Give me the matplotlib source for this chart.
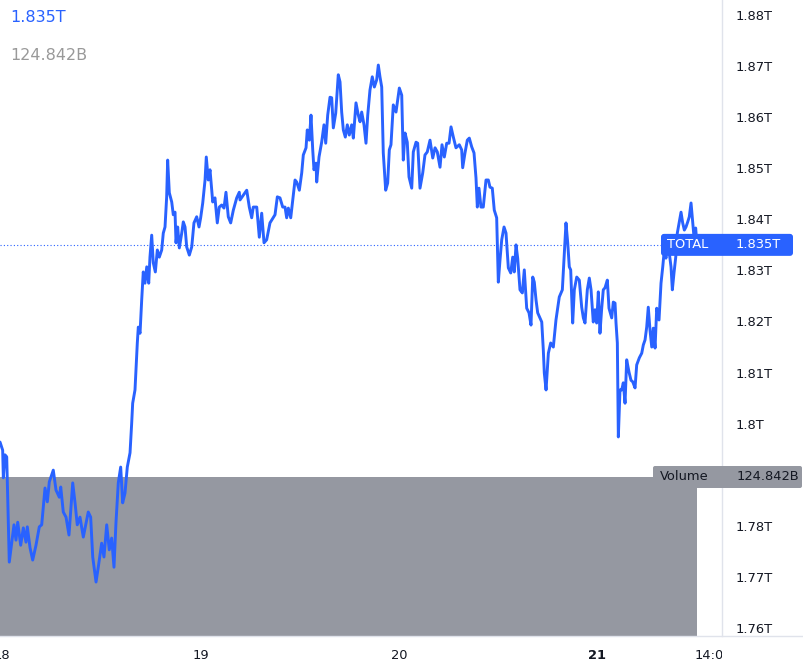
import matplotlib
matplotlib.use("Agg")
import matplotlib.pyplot as plt
from matplotlib.patches import FancyBboxPatch
from matplotlib.lines import Line2D
from matplotlib.transforms import IdentityTransform

# ---------------- data ----------------
# hours since 18th 00:00
hours = [
    -0.24, 0.08, 0.16, 0.36, 0.57, 0.88, 1.17, 1.45, 1.69, 1.90,
    2.26, 2.58, 2.90, 3.06, 3.39, 3.71, 4.11, 4.51, 4.80, 5.20,
    5.48, 5.72, 6.20, 6.53, 6.93, 7.10, 7.41, 7.74, 8.10, 8.55,
    8.83, 9.10, 9.43, 9.83, 10.43, 10.72, 10.97, 11.37, 11.64, 12.05,
    12.33, 12.66, 12.97, 13.26, 13.54, 13.78, 14.06, 14.35, 14.59, 14.87,
    15.15, 15.48, 15.68, 15.80, 16.08, 16.20, 16.36, 16.48, 16.69, 16.89,
    17.08, 17.29, 17.50, 17.74, 17.89, 18.10, 18.29, 18.54, 18.78, 19.02,
    19.31, 19.50, 19.71, 19.91, 20.03, 20.23, 20.52, 20.71, 20.92, 21.04,
    21.24, 21.44, 21.73, 21.92, 22.13, 22.33, 22.65, 22.94, 23.21, 23.54,
    23.82, 24.02, 24.27, 24.55, 24.70, 24.94, 25.15, 25.48, 25.75, 26.03,
    26.27, 26.56, 26.84, 27.08, 27.36, 27.65, 27.97, 28.38, 28.69, 28.78,
    29.59, 29.90, 30.19, 30.38, 30.80, 31.11, 31.40, 31.68, 32.00, 32.40,
    33.01, 33.29, 33.61, 33.94, 34.22, 34.42, 34.62, 34.91, 35.15, 35.43,
    35.63, 35.95, 36.24, 36.43, 36.76, 36.91, 37.16, 37.36, 37.57, 37.72,
    37.97, 38.05, 38.33, 38.65, 38.93, 39.14, 39.38, 39.66, 39.86, 40.06,
    40.35, 40.66, 40.87, 41.07, 41.27, 41.51, 41.75, 41.99, 42.28, 42.48,
    42.80, 43.08, 43.29, 43.49, 43.77, 44.01, 44.22, 44.49, 44.77, 45.02,
    45.30, 45.50, 45.70, 45.91, 46.10, 46.39, 46.63, 46.83, 47.03, 47.31,
    47.64, 48.04, 48.33, 48.52, 48.73, 49.00, 49.21, 49.54, 49.73, 50.06,
    50.26, 50.54, 50.87, 51.14, 51.42, 51.75, 52.08, 52.36, 52.63, 52.96,
    53.20, 53.48, 53.77, 54.05, 54.29, 54.57, 54.89, 55.29, 55.58, 55.70,
    55.98, 56.26, 56.50, 56.79, 57.07, 57.31, 57.47, 57.67, 57.91, 58.19,
    58.52, 58.80, 59.00, 59.28, 59.52, 59.81, 60.01, 60.21, 60.42, 60.70,
    60.94, 61.22, 61.51, 61.75, 61.94, 62.15, 62.35, 62.63, 62.91, 63.15,
    63.44, 63.72, 63.96, 64.17, 64.36, 64.57, 64.77, 65.05, 65.26, 65.45,
    65.57, 65.78, 66.06, 66.34, 66.66, 66.98, 67.38, 67.75, 67.99, 68.19,
    68.40, 68.59, 68.76, 69.00, 69.20, 69.49, 69.80, 70.09, 70.29, 70.49,
    70.77, 71.01, 71.22, 71.49, 71.70, 71.90, 72.10, 72.30, 72.51, 72.70,
    72.91, 73.19, 73.39, 73.72, 73.91, 74.12, 74.24, 74.40, 74.52, 74.72,
    74.93, 75.12, 75.33, 75.53, 75.81, 76.05, 76.26, 76.54, 76.74, 77.06,
    77.35, 77.54, 77.75, 77.95, 78.14, 78.35, 78.56, 78.75, 78.96, 79.16,
    79.44, 79.68, 79.89, 80.08, 80.28, 80.49, 80.68, 80.89, 81.05, 81.25,
    81.46, 81.65, 81.89, 82.10, 82.30, 82.50, 82.70, 82.91, 83.10, 83.31,
    83.46, 83.67, 83.87, 84.03,
]

# total market cap, trillions
total_T = [
    1.7964, 1.7948, 1.7894, 1.7939, 1.7935, 1.7729, 1.7766, 1.7802, 1.7772, 1.7807,
    1.7762, 1.7796, 1.7768, 1.7798, 1.7757, 1.7733, 1.7762, 1.7798, 1.7802, 1.7874,
    1.7847, 1.7886, 1.7909, 1.7870, 1.7856, 1.7876, 1.7827, 1.7817, 1.7782, 1.7884,
    1.7845, 1.7802, 1.7817, 1.7778, 1.7827, 1.7817, 1.7739, 1.7690, 1.7719, 1.7766,
    1.7739, 1.7802, 1.7753, 1.7776, 1.7719, 1.7806, 1.7884, 1.7915, 1.7845, 1.7864,
    1.7915, 1.7943, 1.8001, 1.8040, 1.8066, 1.8105, 1.8158, 1.8189, 1.8177, 1.8242,
    1.8297, 1.8275, 1.8307, 1.8275, 1.8326, 1.8369, 1.8315, 1.8297, 1.8340, 1.8326,
    1.8340, 1.8373, 1.8385, 1.8444, 1.8516, 1.8452, 1.8434, 1.8409, 1.8414, 1.8354,
    1.8385, 1.8344, 1.8373, 1.8395, 1.8385, 1.8346, 1.8330, 1.8346, 1.8393, 1.8405,
    1.8385, 1.8403, 1.8432, 1.8477, 1.8522, 1.8477, 1.8497, 1.8434, 1.8442, 1.8393,
    1.8424, 1.8428, 1.8422, 1.8453, 1.8405, 1.8393, 1.8418, 1.8442, 1.8453, 1.8438,
    1.8457, 1.8424, 1.8403, 1.8424, 1.8424, 1.8365, 1.8412, 1.8354, 1.8360, 1.8393,
    1.8409, 1.8444, 1.8442, 1.8424, 1.8424, 1.8403, 1.8422, 1.8403, 1.8438, 1.8477,
    1.8473, 1.8457, 1.8491, 1.8526, 1.8540, 1.8575, 1.8555, 1.8604, 1.8536, 1.8497,
    1.8510, 1.8473, 1.8522, 1.8551, 1.8585, 1.8549, 1.8604, 1.8639, 1.8638, 1.8579,
    1.8608, 1.8683, 1.8669, 1.8610, 1.8575, 1.8561, 1.8585, 1.8565, 1.8585, 1.8559,
    1.8628, 1.8604, 1.8591, 1.8610, 1.8585, 1.8549, 1.8604, 1.8653, 1.8679, 1.8659,
    1.8673, 1.8702, 1.8679, 1.8659, 1.8530, 1.8457, 1.8471, 1.8536, 1.8546, 1.8624,
    1.8610, 1.8657, 1.8643, 1.8516, 1.8569, 1.8551, 1.8483, 1.8461, 1.8532, 1.8551,
    1.8549, 1.8461, 1.8491, 1.8526, 1.8532, 1.8555, 1.8520, 1.8540, 1.8532, 1.8502,
    1.8546, 1.8522, 1.8549, 1.8549, 1.8581, 1.8561, 1.8540, 1.8546, 1.8536, 1.8501,
    1.8530, 1.8555, 1.8559, 1.8542, 1.8530, 1.8481, 1.8424, 1.8461, 1.8424, 1.8424,
    1.8477, 1.8477, 1.8463, 1.8461, 1.8418, 1.8403, 1.8277, 1.8320, 1.8360, 1.8385,
    1.8373, 1.8305, 1.8295, 1.8326, 1.8297, 1.8350, 1.8324, 1.8262, 1.8256, 1.8301,
    1.8226, 1.8217, 1.8193, 1.8287, 1.8277, 1.8242, 1.8217, 1.8207, 1.8199, 1.8144,
    1.8099, 1.8066, 1.8138, 1.8158, 1.8150, 1.8203, 1.8248, 1.8262, 1.8334, 1.8393,
    1.8354, 1.8307, 1.8301, 1.8197, 1.8262, 1.8287, 1.8281, 1.8228, 1.8207, 1.8197,
    1.8262, 1.8285, 1.8262, 1.8199, 1.8223, 1.8197, 1.8258, 1.8177, 1.8226, 1.8262,
    1.8266, 1.8281, 1.8226, 1.8207, 1.8238, 1.8236, 1.8197, 1.8158, 1.7974, 1.8066,
    1.8066, 1.8080, 1.8040, 1.8125, 1.8101, 1.8085, 1.8082, 1.8070, 1.8115, 1.8129,
    1.8138, 1.8154, 1.8164, 1.8189, 1.8228, 1.8183, 1.8150, 1.8187, 1.8148, 1.8226,
    1.8203, 1.8275, 1.8307, 1.8340, 1.8324, 1.8354, 1.8334, 1.8307, 1.8262, 1.8295,
    1.8326, 1.8373, 1.8395, 1.8414, 1.8393, 1.8379, 1.8385, 1.8395, 1.8405, 1.8432,
    1.8403, 1.8365, 1.8383, 1.8350,
]

volume_B = 124.842
last_text = "1.835T"
volume_text = "124.842B"
series_name = "TOTAL"
volume_name = "Volume"

# 1.79T sits under the volume label in the reference, so it is not listed
price_ticks = [1.76, 1.77, 1.78, 1.80, 1.81, 1.82, 1.83, 1.84, 1.85, 1.86, 1.87, 1.88]
price_tick_labels = ["1.76T", "1.77T", "1.78T", "1.8T", "1.81T", "1.82T",
                     "1.83T", "1.84T", "1.85T", "1.86T", "1.87T", "1.88T"]
time_ticks = [0, 24, 48, 72, 86]
time_tick_labels = ["18", "19", "20", "21", "14:00"]
bold_time_labels = ["21"]

# ---------------- style ----------------
BLUE = "#2962ff"
GREY_VOL = "#9598a1"
TXT = "#131722"
BORDER = "#e0e3eb"
FONT = "DejaVu Sans"

W, H = 804, 664
PLOT_W, PLOT_H, TIME_H = 722, 636, 28

fig = plt.figure(figsize=(W / 100, H / 100), dpi=100, facecolor="white")

rect = [0, TIME_H / H, PLOT_W / W, PLOT_H / H]
axv = fig.add_axes(rect, zorder=0)
ax = fig.add_axes(rect, zorder=1, sharex=axv)
ax.patch.set_alpha(0)

ax.set_xlim(-0.2418, 87.054)
ax.set_ylim(1.758433, 1.882936)

# volume (bottom quarter of pane)
axv.fill_between([hours[0], hours[-1]], 0, volume_B, color=GREY_VOL, lw=0)
axv.set_ylim(0, volume_B / 0.25)
axv.axis("off")

# price line
ax.plot(hours, total_T, color=BLUE, lw=2.1, solid_joinstyle="round",
        solid_capstyle="round", zorder=3)
ax.axhline(total_T[-1], color=BLUE, lw=0.8, ls=(0, (1, 2)), zorder=2)

for s in ["top", "left", "bottom"]:
    ax.spines[s].set_visible(False)
ax.spines["right"].set_color(BORDER)
ax.spines["right"].set_linewidth(1)

ax.set_xticks([])
ax.yaxis.tick_right()
ax.set_yticks(price_ticks, price_tick_labels)
ax.tick_params(axis="y", length=0, pad=10, labelsize=9.4, labelcolor=TXT)
for lab in ax.get_yticklabels():
    lab.set_fontfamily(FONT)

# bottom border line across full width
fig.add_artist(Line2D([0, 1], [TIME_H / H, TIME_H / H], transform=fig.transFigure,
                      color=BORDER, lw=1))

# time axis strip (clipped at price scale)
axt = fig.add_axes([0, 0, PLOT_W / W, TIME_H / H], sharex=ax)
axt.set_ylim(0, 1)
axt.axis("off")
for t, lab in zip(time_ticks, time_tick_labels):
    axt.text(t, 0.32, lab, ha="center", va="center", fontsize=9.4, color=TXT,
             fontfamily=FONT, fontweight="bold" if lab in bold_time_labels else "normal",
             clip_on=True)

# top-left legend values
fig.text(10 / W, 1 - 17 / H, last_text, color=BLUE, fontsize=11.5, va="center",
         ha="left", fontfamily=FONT)
fig.text(10 / W, 1 - 56 / H, volume_text, color="#999999", fontsize=11.5, va="center",
         ha="left", fontfamily=FONT)

# last-value label (TOTAL)
y_last = ax.transData.transform((0, total_T[-1]))[1]
box = FancyBboxPatch((661, y_last - 11), 132, 22,
                     boxstyle="round,pad=0,rounding_size=3",
                     transform=IdentityTransform(), fc=BLUE, ec="none", zorder=10)
fig.add_artist(box)
fig.text(667 / W, y_last / H, series_name, color="white", fontsize=9.4, va="center",
         ha="left", fontfamily=FONT, zorder=11)
fig.text(736 / W, y_last / H, last_text, color="white", fontsize=9.4, va="center",
         ha="left", fontfamily=FONT, zorder=11)

# volume label
y_vol = axv.transData.transform((0, volume_B))[1]
vbox = FancyBboxPatch((653, y_vol - 11), 149, 22,
                      boxstyle="round,pad=0,rounding_size=2",
                      transform=IdentityTransform(), fc=GREY_VOL, ec="none", zorder=10)
fig.add_artist(vbox)
fig.text(660 / W, y_vol / H, volume_name, color=TXT, fontsize=9.4, va="center",
         ha="left", fontfamily=FONT, zorder=11)
fig.text(737 / W, y_vol / H, volume_text, color=TXT, fontsize=9.4, va="center",
         ha="left", fontfamily=FONT, zorder=11)

fig.savefig("out.png", dpi=100, facecolor="white")
